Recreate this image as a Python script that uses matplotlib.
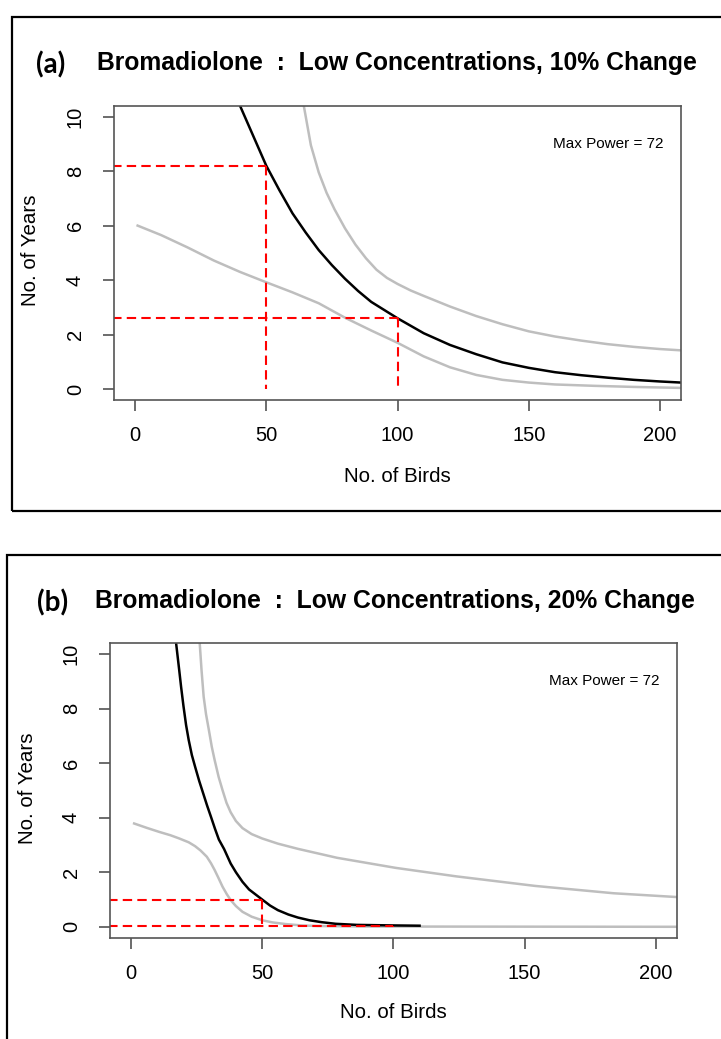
import matplotlib
matplotlib.use('Agg')
import matplotlib.pyplot as plt
from matplotlib.patches import Rectangle

plt.rcParams['font.family'] = ['Liberation Sans', 'DejaVu Sans']

W, H = 721, 1039

# panel (a): low concentrations, 10% change
a_mid_x = [40, 45, 50, 55, 60, 65, 70, 75, 80, 85, 90, 95, 100, 110, 120, 130,
           140, 150, 160, 170, 180, 190, 200, 210]
a_mid_y = [10.4, 9.3, 8.2, 7.3, 6.45, 5.75, 5.1, 4.55, 4.05, 3.6, 3.2, 2.9, 2.6,
           2.05, 1.62, 1.28, 0.98, 0.78, 0.62, 0.51, 0.42, 0.34, 0.28, 0.23]
a_up_x = [64.3, 67, 70, 73, 76, 80, 84, 88, 92, 96, 100, 105, 110, 120, 130, 140,
          150, 160, 170, 180, 190, 200, 210]
a_up_y = [10.4, 8.95, 7.95, 7.2, 6.6, 5.9, 5.3, 4.8, 4.38, 4.08, 3.86, 3.62, 3.42,
          3.03, 2.68, 2.38, 2.12, 1.93, 1.78, 1.65, 1.55, 1.47, 1.41]
a_lo_x = [1, 10, 20, 30, 40, 50, 60, 70, 80, 90, 100, 110, 120, 130, 140, 150,
          160, 175, 190, 210]
a_lo_y = [6.0, 5.65, 5.2, 4.72, 4.3, 3.92, 3.55, 3.15, 2.62, 2.15, 1.7, 1.2, 0.8,
          0.52, 0.34, 0.24, 0.17, 0.12, 0.08, 0.04]
a_ref_x = [50, 100]
a_ref_y = [8.2, 2.6]

# panel (b): low concentrations, 20% change
b_mid_x = [17.2, 18.4, 19.1, 20, 21, 22, 23.2, 24.5, 26, 27.5, 29, 30.5, 32, 33.5,
           35.5, 38, 40, 42.5, 45, 50, 53, 56, 60, 63.6, 68, 72.6, 78, 86, 100, 110]
b_mid_y = [10.4, 9.4, 8.8, 8.1, 7.4, 6.85, 6.3, 5.85, 5.35, 4.9, 4.45, 4.03, 3.6,
           3.2, 2.85, 2.32, 2.0, 1.65, 1.37, 1.0, 0.78, 0.61, 0.45, 0.34, 0.24, 0.17,
           0.11, 0.07, 0.05, 0.04]
b_up_x = [26.2, 26.9, 27.7, 28.6, 29.7, 30.8, 31.9, 33.4, 34.9, 36.4, 38, 40, 42.5,
          46, 50, 56, 63.6, 78.6, 101, 124, 154, 184, 210]
b_up_y = [10.4, 9.4, 8.44, 7.8, 7.21, 6.6, 6.11, 5.5, 5.01, 4.55, 4.2, 3.88, 3.62,
          3.4, 3.24, 3.05, 2.86, 2.53, 2.16, 1.85, 1.5, 1.23, 1.08]
b_lo_x = [1.2, 6, 10.8, 15, 18.4, 22, 24.4, 26.5, 28.9, 30.5, 31.9, 33.4, 34.9,
          36.5, 38, 40, 42.5, 46, 50, 54, 59, 65, 71, 90, 210]
b_lo_y = [3.79, 3.63, 3.48, 3.36, 3.24, 3.1, 2.96, 2.8, 2.57, 2.33, 2.08, 1.78,
          1.47, 1.2, 0.98, 0.76, 0.55, 0.37, 0.24, 0.16, 0.1, 0.05, 0.03, 0.01, 0.0]
b_ref_x = [50, 100]
b_ref_y = [1.0, 0.04]

x_ticks = [0, 50, 100, 150, 200]
y_ticks = [0, 2, 4, 6, 8, 10]
max_power = 72

fig = plt.figure(figsize=(W / 100, H / 100), dpi=100)


def fx(px):
    return px / W


def fy(py):
    return 1 - py / H


def panel(left, top, right, bottom, frame, tag, title, tag_pos, title_pos,
          xlab_pos, ylab_pos, mid, up, lo, ref_x, ref_y):
    # outer frame around the panel
    fig.patches.append(Rectangle((fx(frame[0]), fy(frame[3])),
                                 fx(frame[2] - frame[0]), (frame[3] - frame[1]) / H,
                                 transform=fig.transFigure, fill=False,
                                 edgecolor='black', lw=1.6))
    ax = fig.add_axes([fx(left), fy(bottom), fx(right - left), (bottom - top) / H])
    ax.plot(lo[0], lo[1], color='#bebebe', lw=1.8)
    ax.plot(up[0], up[1], color='#bebebe', lw=1.8)
    ax.plot(mid[0], mid[1], color='black', lw=1.8)
    for rx, ry in zip(ref_x, ref_y):
        ax.plot([-20, rx], [ry, ry], color='red', lw=1.5, ls=(0, (4.5, 2.5)))
        ax.plot([rx, rx], [ry, 0], color='red', lw=1.5, ls=(0, (4.5, 2.5)))
    ax.set_xlim(-8, 208)
    ax.set_ylim(-0.4, 10.4)
    ax.set_xticks(x_ticks)
    ax.set_yticks(y_ticks)
    for s in ax.spines.values():
        s.set_color('#555555')
        s.set_linewidth(1.2)
    ax.tick_params(direction='out', length=8, width=1.1, color='#444444',
                   labelsize=14.5)
    ax.tick_params(axis='x', pad=11)
    ax.tick_params(axis='y', pad=13)
    for lab in ax.get_yticklabels():
        lab.set_rotation(90)
        lab.set_va('center')
    ax.text(201.5, 9.0, 'Max Power = %d' % max_power, ha='right', va='center',
            fontsize=11)
    fig.text(fx(tag_pos[0]), fy(tag_pos[1]), tag, ha='center', va='center',
             fontsize=20, fontweight='bold', family=['Lato', 'DejaVu Sans'])
    fig.text(fx(title_pos[0]), fy(title_pos[1]), title, ha='left', va='center',
             fontsize=17.8, fontweight='bold')
    fig.text(fx(xlab_pos[0]), fy(xlab_pos[1]), 'No. of Birds', ha='center',
             va='center', fontsize=14.8)
    fig.text(fx(ylab_pos[0]), fy(ylab_pos[1]), 'No. of Years', ha='center',
             va='center', fontsize=14.8, rotation=90)
    return ax


panel(114, 105.7, 681, 400, (12, 17, 760, 511), '(a)',
      'Bromadiolone  :  Low Concentrations, 10% Change',
      (51, 65), (97, 63), (397, 476), (30, 250),
      (a_mid_x, a_mid_y), (a_up_x, a_up_y), (a_lo_x, a_lo_y), a_ref_x, a_ref_y)

panel(110, 643.3, 676.7, 937.7, (7, 555, 760, 1080), '(b)',
      'Bromadiolone  :  Low Concentrations, 20% Change',
      (53, 603), (95, 601), (393, 1013), (28, 788),
      (b_mid_x, b_mid_y), (b_up_x, b_up_y), (b_lo_x, b_lo_y), b_ref_x, b_ref_y)

fig.savefig('out.png', dpi=100)
